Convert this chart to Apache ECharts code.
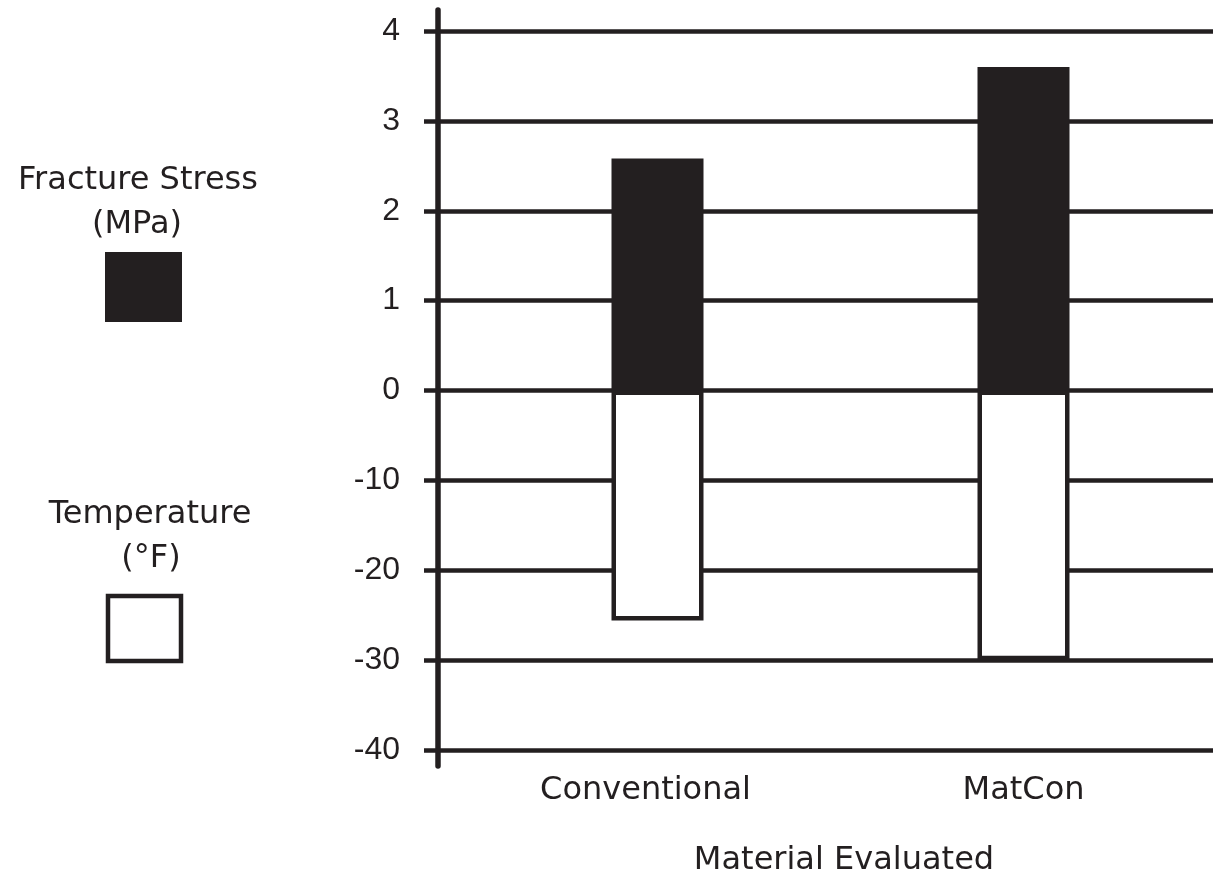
<!DOCTYPE html>
<html>
<head>
<meta charset="utf-8">
<script src="https://cdn.jsdelivr.net/npm/echarts@6/dist/echarts.min.js"></script>
<style>
  html, body { margin: 0; background: #fff; }
  #chart { width: 1213px; height: 879px; }
</style>
</head>
<body>
<div id="chart"></div>
<script>
// values
const materials = ['Conventional', 'MatCon'];
const fractureStressMPa = [2.58, 3.6];
const temperatureF = [-25.6, -30];
// one gridline = 1 MPa above zero, 10 °F below zero
const yTickLabels = ['-40', '-30', '-20', '-10', '0', '1', '2', '3', '4'];

const INK = '#231f20';
const textFont = 'DejaVu Sans';
const tickFont = 'Liberation Sans';

const chart = echarts.init(document.getElementById('chart'));

const legendText = (text, x, y) => ({
  type: 'text',
  x: x,
  y: y,
  style: {
    text: text,
    fill: INK,
    font: '32px "' + textFont + '"',
    align: 'center',
    verticalAlign: 'middle'
  }
});

chart.setOption({
  backgroundColor: '#fff',
  animation: false,
  grid: [
    // bars
    { left: 474.5, right: 6.5, top: 31, bottom: 129, outerBoundsMode: 'none' },
    // gridlines, ticks and tick labels
    { left: 438, right: 0, top: 31, bottom: 129, outerBoundsMode: 'none' },
    // the vertical axis line runs a bit past the end ticks
    { left: 438, right: 0, top: 10, bottom: 113, outerBoundsMode: 'none' }
  ],
  xAxis: [
    {
      gridIndex: 0,
      type: 'category',
      // the first label sits a little left of its bar in the original
      data: materials.map((m, i) => i === 0 ? { value: m, textStyle: { padding: [0, 24, 0, 0] } } : m),
      axisLine: { show: false },
      axisTick: { show: false },
      axisLabel: {
        color: INK,
        fontFamily: textFont,
        fontSize: 32,
        lineHeight: 32,
        margin: 25
      },
      name: 'Material Evaluated',
      nameLocation: 'middle',
      nameGap: 95,
      nameTextStyle: {
        color: INK,
        fontFamily: textFont,
        fontSize: 32,
        lineHeight: 32,
        padding: [0, 0, 0, 7]
      }
    },
    { gridIndex: 1, type: 'value', min: 0, max: 1, show: false },
    { gridIndex: 2, type: 'value', min: 0, max: 1, show: false }
  ],
  yAxis: [
    { gridIndex: 0, type: 'value', min: -4, max: 4, interval: 1, show: false },
    {
      gridIndex: 1,
      type: 'value',
      min: -4,
      max: 4,
      interval: 1,
      axisLine: { show: false },
      axisTick: { show: true, length: 14, lineStyle: { color: INK, width: 4.5 } },
      splitLine: { show: true, lineStyle: { color: INK, width: 4.5 } },
      axisLabel: {
        color: INK,
        fontFamily: tickFont,
        fontSize: 32,
        margin: 38,
        formatter: v => yTickLabels[v + 4]
      }
    },
    {
      gridIndex: 2,
      type: 'value',
      min: 0,
      max: 1,
      axisLine: { show: true, lineStyle: { color: INK, width: 5.5 } },
      axisTick: { show: false },
      axisLabel: { show: false },
      splitLine: { show: false }
    }
  ],
  series: [
    {
      name: 'Fracture Stress (MPa)',
      type: 'bar',
      xAxisIndex: 0,
      yAxisIndex: 0,
      data: fractureStressMPa,
      barWidth: 92,
      barGap: '-100%',
      itemStyle: { color: INK }
    },
    {
      name: 'Temperature (°F)',
      type: 'bar',
      xAxisIndex: 0,
      yAxisIndex: 0,
      data: temperatureF.map(t => t / 10),
      barWidth: 92,
      barGap: '-100%',
      itemStyle: { color: '#fff', borderColor: INK, borderWidth: 4.5 }
    }
  ],
  graphic: [
    legendText('Fracture Stress', 138, 181),
    legendText('(MPa)', 137, 225),
    { type: 'rect', shape: { x: 105, y: 252, width: 77, height: 70 }, style: { fill: INK } },
    legendText('Temperature', 150, 515),
    legendText('(°F)', 151, 559),
    {
      type: 'rect',
      shape: { x: 108, y: 596, width: 73, height: 65 },
      style: { fill: '#fff', stroke: INK, lineWidth: 4.5 }
    }
  ]
});

window.addEventListener('resize', () => chart.resize());
</script>
</body>
</html>
